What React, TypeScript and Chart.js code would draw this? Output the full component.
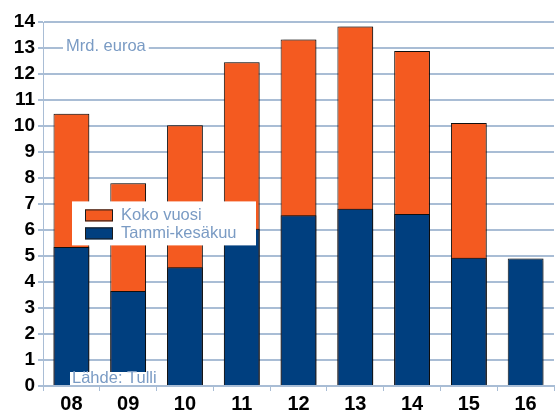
import React, { useEffect, useRef } from "react";
import { Chart, registerables } from "chart.js";

Chart.register(...registerables);

const categories = ["08", "09", "10", "11", "12", "13", "14", "15", "16"];
const fullYear = [10.47, 7.8, 10.03, 12.45, 13.33, 13.83, 12.88, 10.12, null];
const janJun = [5.35, 3.65, 4.57, 6.05, 6.57, 6.82, 6.62, 4.93, 4.9];
const yTicks = [0, 1, 2, 3, 4, 5, 6, 7, 8, 9, 10, 11, 12, 13, 14];
const seriesLabels = ["Koko vuosi", "Tammi-kesäkuu"];
const unitLabel = "Mrd. euroa";
const sourceLabel = "Lähde: Tulli";

const ORANGE = "#f45a20";
const BLUE = "#003f7f";
const GRID = "#a9bdd5";
const TEXTBLUE = "#7a9bc4";

const shadowPlugin = {
  id: "barShadow",
  beforeDatasetsDraw(chart: any) {
    const ctx = chart.ctx;
    ctx.save();
    ctx.shadowColor = "rgba(0,0,0,0.35)";
    ctx.shadowOffsetX = 2;
    ctx.shadowOffsetY = 0;
    ctx.shadowBlur = 2;
  },
  afterDatasetsDraw(chart: any) {
    chart.ctx.restore();
  },
};

const overlayPlugin = {
  id: "overlay",
  afterDatasetsDraw(chart: any) {
    const ctx = chart.ctx;
    const area = chart.chartArea;
    const y = chart.scales.y;
    ctx.save();
    ctx.shadowColor = "transparent";
    ctx.font = "16.5px 'Liberation Sans', Arial, sans-serif";
    ctx.textBaseline = "middle";
    // unit label
    const uy = y.getPixelForValue(13);
    const uw = ctx.measureText(unitLabel).width;
    ctx.fillStyle = "#ffffff";
    ctx.fillRect(area.left + 20, uy - 4, uw + 6, 8);
    ctx.fillStyle = TEXTBLUE;
    ctx.textAlign = "left";
    ctx.fillText(unitLabel, area.left + 23, uy - 2);
    // source label
    const sw = ctx.measureText(sourceLabel).width;
    ctx.fillStyle = "#ffffff";
    ctx.fillRect(area.left + 27, area.bottom - 14, sw + 4, 13);
    ctx.fillStyle = TEXTBLUE;
    ctx.fillText(sourceLabel, area.left + 29, area.bottom - 8);
    // legend
    const lx = area.left + 29;
    const ly = y.getPixelForValue(7.1);
    ctx.fillStyle = "#ffffff";
    ctx.fillRect(lx, ly, 184, 44);
    const ds = chart.data.datasets;
    const items = [ds[0], ds[1]];
    items.forEach((d: any, i: number) => {
      const sy = ly + 8 + i * 18;
      ctx.fillStyle = d.backgroundColor;
      ctx.fillRect(lx + 13, sy, 28, 12);
      ctx.strokeStyle = "#1a1a1a";
      ctx.lineWidth = 1;
      ctx.strokeRect(lx + 13.5, sy + 0.5, 27, 11);
      ctx.fillStyle = TEXTBLUE;
      ctx.fillText(d.label, lx + 49, sy + 6);
    });
    ctx.restore();
  },
};

export default function App() {
  const ref = useRef<HTMLCanvasElement>(null);
  useEffect(() => {
    document.body.style.margin = "0";
    const chart = new Chart(ref.current!, {
      type: "bar",
      data: {
        labels: categories,
        datasets: [
          {
            label: seriesLabels[0],
            data: fullYear,
            backgroundColor: ORANGE,
            borderColor: "#111",
            borderWidth: 1,
            grouped: false,
            order: 2,
            barPercentage: 0.63,
            categoryPercentage: 1,
          },
          {
            label: seriesLabels[1],
            data: janJun,
            backgroundColor: BLUE,
            borderColor: "#111",
            borderWidth: 1,
            grouped: false,
            order: 1,
            barPercentage: 0.63,
            categoryPercentage: 1,
          },
        ] as any,
      },
      options: {
        animation: false,
        responsive: false,
        maintainAspectRatio: false,
        layout: { padding: { top: 22, right: 1, left: 0, bottom: 0 } },
        plugins: { legend: { display: false }, tooltip: { enabled: false } },
        scales: {
          x: {
            grid: {
              drawOnChartArea: false,
              drawTicks: true,
              tickLength: 5,
              color: GRID,
              lineWidth: 1,
            },
            border: { color: GRID, width: 2 },
            ticks: {
              color: "#000",
              padding: 1,
              font: { family: "'Liberation Sans', Arial, sans-serif", size: 20, weight: "bold" },
            },
            afterFit: (s: any) => {
              s.height = 24;
            },
          },
          y: {
            min: 0,
            max: 14,
            afterBuildTicks: (s: any) => {
              s.ticks = yTicks.map((v) => ({ value: v }));
            },
            grid: {
              color: GRID,
              lineWidth: 2,
              tickLength: 5,
            },
            border: { color: GRID, width: 1 },
            ticks: {
              color: "#000",
              padding: 3,
              font: { family: "'Liberation Sans', Arial, sans-serif", size: 19, weight: "bold" },
            },
            afterFit: (s: any) => {
              s.width = 43;
            },
          },
        },
      },
      plugins: [shadowPlugin, overlayPlugin],
    });
    return () => chart.destroy();
  }, []);
  return (
    <div style={{ width: 555, height: 410 }}>
      <canvas ref={ref} width={555} height={410} style={{ width: 555, height: 410 }} />
    </div>
  );
}
